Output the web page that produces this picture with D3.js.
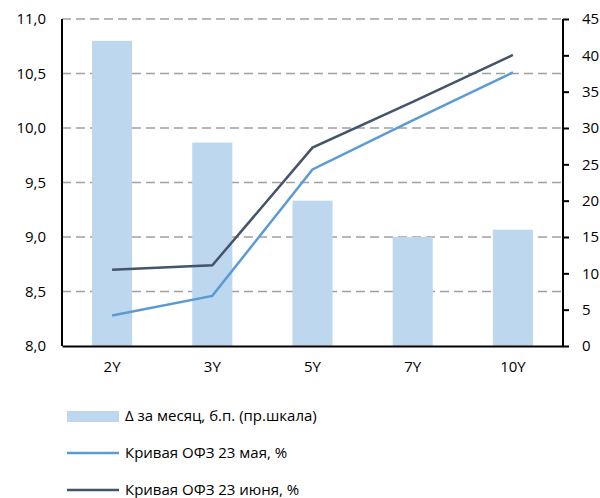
<!DOCTYPE html>
<html>
<head>
<meta charset="utf-8">
<script src="https://cdn.jsdelivr.net/npm/d3@7"></script>
<style>
  body { margin: 0; background: #fff; }
  text { font-family: "Open Sans", "Noto Sans", sans-serif; fill: #000; }
</style>
</head>
<body>
<script>
// data
var terms = ["2Y", "3Y", "5Y", "7Y", "10Y"];
var deltaBp = [42, 28, 20, 15, 16];                  // bars, right scale
var curveMay = [8.28, 8.46, 9.62, 10.07, 10.51];     // %
var curveJune = [8.70, 8.74, 9.82, 10.24, 10.67];    // %
var leftTicks = [8.0, 8.5, 9.0, 9.5, 10.0, 10.5, 11.0];
var rightTicks = [0, 5, 10, 15, 20, 25, 30, 35, 40, 45];
var legendLabels = ["Δ за месяц, б.п. (пр.шкала)", "Кривая ОФЗ 23 мая, %", "Кривая ОФЗ 23 июня, %"];

var W = 600, H = 498;
var m = { left: 62, right: 37, top: 19, bottom: 152 };

var svg = d3.select("body").append("svg")
  .attr("width", W).attr("height", H);

var x = d3.scaleBand().domain(terms)
  .range([m.left, W - m.right])
  .paddingInner(0.6).paddingOuter(0.3);
var yL = d3.scaleLinear().domain([8, 11]).range([H - m.bottom, m.top]);
var yR = d3.scaleLinear().domain([0, 45]).range([H - m.bottom, m.top]);

// gridlines (left scale)
svg.append("g").selectAll("line")
  .data(leftTicks.slice(1))
  .enter().append("line")
  .attr("x1", m.left).attr("x2", W - m.right)
  .attr("y1", function (d) { return yL(d); })
  .attr("y2", function (d) { return yL(d); })
  .attr("stroke", "#a0a0a0")
  .attr("stroke-width", 1.5)
  .attr("stroke-dasharray", "9,5");

// bars
svg.append("g").selectAll("rect")
  .data(terms)
  .enter().append("rect")
  .attr("x", function (d) { return x(d); })
  .attr("width", x.bandwidth())
  .attr("y", function (d, i) { return yR(deltaBp[i]); })
  .attr("height", function (d, i) { return yR(0) - yR(deltaBp[i]); })
  .attr("fill", "#bdd7ee");

// lines
var line = d3.line()
  .x(function (d, i) { return x(terms[i]) + x.bandwidth() / 2; })
  .y(function (d) { return yL(d); });

svg.append("path").datum(curveMay)
  .attr("d", line).attr("fill", "none")
  .attr("stroke", "#5b9bd5").attr("stroke-width", 2.5);
svg.append("path").datum(curveJune)
  .attr("d", line).attr("fill", "none")
  .attr("stroke", "#44546a").attr("stroke-width", 2.5);

// axes
var leftAxis = svg.append("g")
  .attr("transform", "translate(" + m.left + ",0)")
  .call(d3.axisLeft(yL).tickValues(leftTicks).tickSize(0).tickPadding(16)
    .tickFormat(function (d) { return d3.format(".1f")(d).replace(".", ","); }));
var rightAxis = svg.append("g")
  .attr("transform", "translate(" + (W - m.right) + ",0)")
  .call(d3.axisRight(yR).tickValues(rightTicks).tickSize(6).tickPadding(13));
var bottomAxis = svg.append("g")
  .attr("transform", "translate(0," + (H - m.bottom) + ")")
  .call(d3.axisBottom(x).tickSize(0).tickPadding(15));

[leftAxis, rightAxis, bottomAxis].forEach(function (g) {
  g.select(".domain").attr("stroke", "#000").attr("stroke-width", 2);
  g.selectAll(".tick line").attr("stroke", "#000").attr("stroke-width", 2);
  g.selectAll("text").style("font-size", "15px").attr("fill", "#000");
});
leftAxis.select(".domain").attr("d", "M0," + yL(11) + "V" + yL(8));
rightAxis.select(".domain").attr("d", "M0," + yR(45) + "V" + yR(0));
rightAxis.selectAll(".tick text").attr("text-anchor", "start");

// legend
var leg = svg.append("g").attr("transform", "translate(67,0)");
var legY = [416, 453, 490];
leg.append("rect").attr("x", 0).attr("y", legY[0] - 5)
  .attr("width", 52).attr("height", 11).attr("fill", "#bdd7ee");
leg.append("line").attr("x1", 0).attr("x2", 52)
  .attr("y1", legY[1]).attr("y2", legY[1])
  .attr("stroke", "#5b9bd5").attr("stroke-width", 2.5);
leg.append("line").attr("x1", 0).attr("x2", 52)
  .attr("y1", legY[2]).attr("y2", legY[2])
  .attr("stroke", "#44546a").attr("stroke-width", 2.5);
leg.selectAll("text.lab").data(legendLabels)
  .enter().append("text").attr("class", "lab")
  .attr("x", 58)
  .attr("y", function (d, i) { return legY[i]; })
  .attr("dy", "0.35em")
  .style("font-size", "15px")
  .text(function (d) { return d; });
</script>
</body>
</html>
